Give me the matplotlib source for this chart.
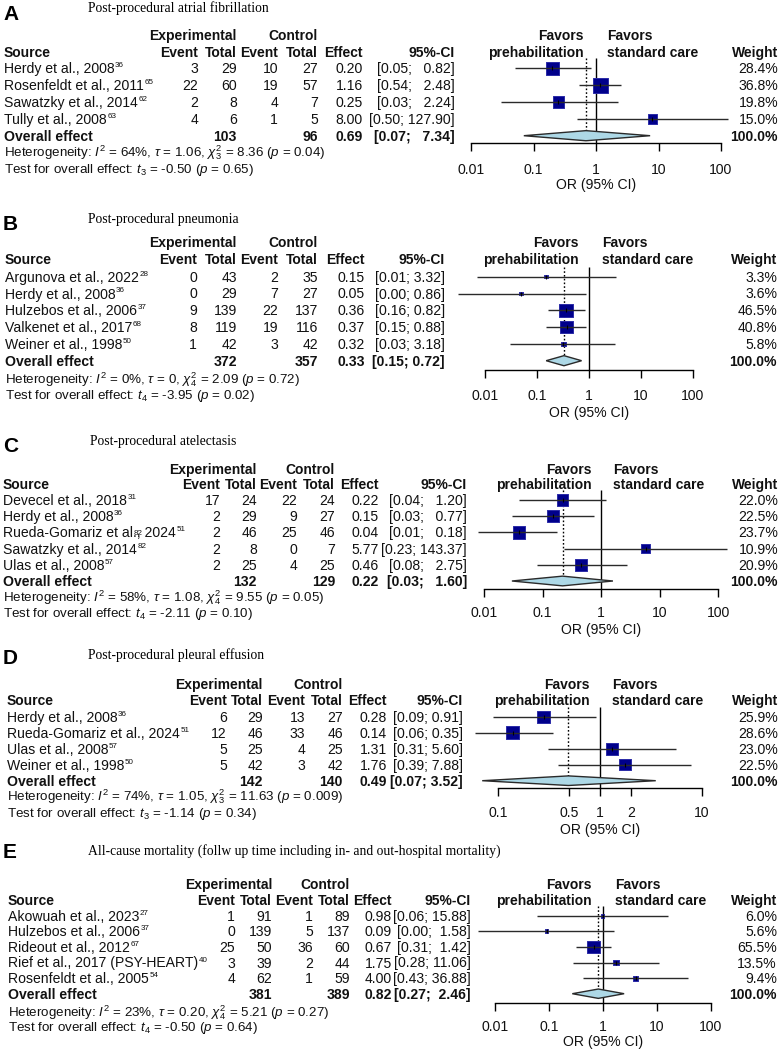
import numpy as np
import matplotlib
matplotlib.use("Agg")
import matplotlib.pyplot as plt
from matplotlib import transforms
from matplotlib.ticker import FixedLocator, FixedFormatter, NullLocator

plt.rcParams['font.family'] = ['Liberation Sans', 'DejaVu Sans']
plt.rcParams['mathtext.fontset'] = 'custom'
plt.rcParams['mathtext.rm'] = 'Liberation Sans'
plt.rcParams['mathtext.it'] = 'Liberation Sans:italic'
plt.rcParams['mathtext.bf'] = 'Liberation Sans:bold'
plt.rcParams['mathtext.sf'] = 'Liberation Sans'

# ---------------- DATA ----------------
# Panel A
A_title = "Post-procedural atrial fibrillation"
A_source = ["Herdy et al., 2008", "Rosenfeldt et al., 2011", "Sawatzky et al., 2014", "Tully et al., 2008"]
A_refs = ["36", "65", "62", "63"]
A_ev_e = [3, 22, 2, 4]
A_tot_e = [29, 60, 8, 6]
A_ev_c = [10, 19, 4, 1]
A_tot_c = [27, 57, 7, 5]
A_or = [0.20, 1.16, 0.25, 8.00]
A_lo = [0.05, 0.54, 0.03, 0.50]
A_hi = [0.82, 2.48, 2.24, 127.90]
A_w = [28.4, 36.8, 19.8, 15.0]
A_overall = [0.69, 0.07, 7.34]
A_het = r"Heterogeneity: $I^2$ = 64%, $\tau$ = 1.06, $\chi^2_3$ = 8.36 ($p$ = 0.04)"
A_test = r"Test for overall effect: $t_3$ = -0.50 ($p$ = 0.65)"
A_ticks = [0.01, 0.1, 1, 10, 100]
A_ticklabels = ["0.01", "0.1", "1", "10", "100"]

# Panel B
B_title = "Post-procedural pneumonia"
B_source = ["Argunova et al., 2022", "Herdy et al., 2008", "Hulzebos et al., 2006", "Valkenet et al., 2017", "Weiner et al., 1998"]
B_refs = ["28", "36", "37", "68", "50"]
B_ev_e = [0, 0, 9, 8, 1]
B_tot_e = [43, 29, 139, 119, 42]
B_ev_c = [2, 7, 22, 19, 3]
B_tot_c = [35, 27, 137, 116, 42]
B_or = [0.15, 0.05, 0.36, 0.37, 0.32]
B_lo = [0.007, 0.003, 0.16, 0.15, 0.03]
B_hi = [3.32, 0.86, 0.82, 0.88, 3.18]
B_w = [3.3, 3.6, 46.5, 40.8, 5.8]
B_overall = [0.33, 0.15, 0.72]
B_het = r"Heterogeneity: $I^2$ = 0%, $\tau$ = 0, $\chi^2_4$ = 2.09 ($p$ = 0.72)"
B_test = r"Test for overall effect: $t_4$ = -3.95 ($p$ = 0.02)"
B_ticks = [0.01, 0.1, 1, 10, 100]
B_ticklabels = ["0.01", "0.1", "1", "10", "100"]

# Panel C
C_title = "Post-procedural atelectasis"
C_source = ["Devecel et al., 2018", "Herdy et al., 2008", "Rueda-Gomariz et al., 2024", "Sawatzky et al., 2014", "Ulas et al., 2008"]
C_refs = ["31", "36", "51", "82", "57"]
C_inline_refs = {2: ("Rueda-Gomariz et al", "82")}
C_ev_e = [17, 2, 2, 2, 2]
C_tot_e = [24, 29, 46, 8, 25]
C_ev_c = [22, 9, 25, 0, 4]
C_tot_c = [24, 27, 46, 7, 25]
C_or = [0.22, 0.15, 0.04, 5.77, 0.46]
C_lo = [0.04, 0.03, 0.008, 0.23, 0.08]
C_hi = [1.20, 0.77, 0.18, 143.37, 2.75]
C_w = [22.0, 22.5, 23.7, 10.9, 20.9]
C_overall = [0.22, 0.03, 1.60]
C_het = r"Heterogeneity: $I^2$ = 58%, $\tau$ = 1.08, $\chi^2_4$ = 9.55 ($p$ = 0.05)"
C_test = r"Test for overall effect: $t_4$ = -2.11 ($p$ = 0.10)"
C_ticks = [0.01, 0.1, 1, 10, 100]
C_ticklabels = ["0.01", "0.1", "1", "10", "100"]

# Panel D
D_title = "Post-procedural pleural effusion"
D_source = ["Herdy et al., 2008", "Rueda-Gomariz et al., 2024", "Ulas et al., 2008", "Weiner et al., 1998"]
D_refs = ["36", "51", "57", "50"]
D_ev_e = [6, 12, 5, 5]
D_tot_e = [29, 46, 25, 42]
D_ev_c = [13, 33, 4, 3]
D_tot_c = [27, 46, 25, 42]
D_or = [0.28, 0.14, 1.31, 1.76]
D_lo = [0.09, 0.06, 0.31, 0.39]
D_hi = [0.91, 0.35, 5.60, 7.88]
D_w = [25.9, 28.6, 23.0, 22.5]
D_overall = [0.49, 0.07, 3.52]
D_het = r"Heterogeneity: $I^2$ = 74%, $\tau$ = 1.05, $\chi^2_3$ = 11.63 ($p$ = 0.009)"
D_test = r"Test for overall effect: $t_3$ = -1.14 ($p$ = 0.34)"
D_ticks = [0.1, 0.5, 1, 2, 10]
D_ticklabels = ["0.1", "0.5", "1", "2", "10"]

# Panel E
E_title = "All-cause mortality (follw up time including in- and out-hospital mortality)"
E_source = ["Akowuah et al., 2023", "Hulzebos et al., 2006", "Rideout et al., 2012", "Rief et al., 2017 (PSY-HEART)", "Rosenfeldt et al., 2005"]
E_refs = ["27", "37", "67", "40", "54"]
E_ev_e = [1, 0, 25, 3, 4]
E_tot_e = [91, 139, 50, 39, 62]
E_ev_c = [1, 5, 36, 2, 1]
E_tot_c = [89, 137, 60, 44, 59]
E_or = [0.98, 0.09, 0.67, 1.75, 4.00]
E_lo = [0.06, 0.0049, 0.31, 0.28, 0.43]
E_hi = [15.88, 1.58, 1.42, 11.06, 36.88]
E_w = [6.0, 5.6, 65.5, 13.5, 9.4]
E_overall = [0.82, 0.27, 2.46]
E_het = r"Heterogeneity: $I^2$ = 23%, $\tau$ = 0.20, $\chi^2_4$ = 5.21 ($p$ = 0.27)"
E_test = r"Test for overall effect: $t_4$ = -0.50 ($p$ = 0.64)"
E_ticks = [0.01, 0.1, 1, 10, 100]
E_ticklabels = ["0.01", "0.1", "1", "10", "100"]

panels = [
    dict(letter="A", title=A_title, source=A_source, refs=A_refs, ev_e=A_ev_e, tot_e=A_tot_e, ev_c=A_ev_c, tot_c=A_tot_c,
         eff=A_or, lo=A_lo, hi=A_hi, w=A_w, overall=A_overall, het=A_het, test=A_test, ticks=A_ticks, ticklabels=A_ticklabels),
    dict(letter="B", title=B_title, source=B_source, refs=B_refs, ev_e=B_ev_e, tot_e=B_tot_e, ev_c=B_ev_c, tot_c=B_tot_c,
         eff=B_or, lo=B_lo, hi=B_hi, w=B_w, overall=B_overall, het=B_het, test=B_test, ticks=B_ticks, ticklabels=B_ticklabels),
    dict(letter="C", title=C_title, source=C_source, refs=C_refs, ev_e=C_ev_e, tot_e=C_tot_e, ev_c=C_ev_c, tot_c=C_tot_c,
         eff=C_or, lo=C_lo, hi=C_hi, w=C_w, overall=C_overall, het=C_het, test=C_test, ticks=C_ticks, ticklabels=C_ticklabels,
         inline=C_inline_refs),
    dict(letter="D", title=D_title, source=D_source, refs=D_refs, ev_e=D_ev_e, tot_e=D_tot_e, ev_c=D_ev_c, tot_c=D_tot_c,
         eff=D_or, lo=D_lo, hi=D_hi, w=D_w, overall=D_overall, het=D_het, test=D_test, ticks=D_ticks, ticklabels=D_ticklabels),
    dict(letter="E", title=E_title, source=E_source, refs=E_refs, ev_e=E_ev_e, tot_e=E_tot_e, ev_c=E_ev_c, tot_c=E_tot_c,
         eff=E_or, lo=E_lo, hi=E_hi, w=E_w, overall=E_overall, het=E_het, test=E_test, ticks=E_ticks, ticklabels=E_ticklabels),
]

# ---------------- LAYOUT (pixels, top-left origin) ----------------
layouts = [
    dict(letter_y=14, title_y=8, title_x=88, h1=35, h2=52, y0=68.3, s=16.85, het=152, test=168,
         cols=(4, 198, 237, 278, 318, 363, 455, 778), px1=596, dec=62.5, axis_y=143, tick_y=170, xlab_y=185,
         fav=(584, 607), sq=15.0, src_x=4),
    dict(letter_y=224, title_y=220, title_x=88, h1=242, h2=259, y0=276.7, s=16.8, het=379, test=394,
         cols=(5, 197, 237, 278, 318, 365, 445, 777), px1=589, dec=52, axis_y=370, tick_y=396, xlab_y=413,
         fav=(579, 602), sq=13.3, src_x=5),
    dict(letter_y=446, title_y=442, title_x=90, h1=469, h2=484, y0=500, s=16.2, het=597, test=613,
         cols=(3, 220, 257, 297, 335, 379, 467, 778), px1=601, dec=58.5, axis_y=589, tick_y=613, xlab_y=630,
         fav=(592, 613), sq=12.3, src_x=3),
    dict(letter_y=659, title_y=655, title_x=88, h1=684, h2=700, y0=716.7, s=16.0, het=796, test=813,
         cols=(7, 227, 263, 305, 343, 387, 463, 778), px1=600, dec=102, axis_y=788, tick_y=813, xlab_y=830,
         fav=(590, 612), sq=13.0, src_x=7),
    dict(letter_y=853, title_y=851, title_x=88, h1=884, h2=900, y0=915.7, s=15.6, het=1012, test=1027,
         cols=(8, 235, 272, 313, 350, 392, 471, 777), px1=603, dec=54, axis_y=1003, tick_y=1027, xlab_y=1042,
         fav=(592, 615), sq=12.7, src_x=8),
]

W, H = 782, 1051
fig = plt.figure(figsize=(W / 100, H / 100), dpi=100)
fig.patch.set_facecolor("white")
pxT = transforms.Affine2D().scale(1 / W, -1 / H).translate(0, 1) + fig.transFigure
renderer = fig.canvas.get_renderer()

FS = 10.1
FS_B = 10
FS_HET = 9.6
FS_SUP = 5.8
TXT = "#111111"


def txt(x, y, s, **kw):
    kw.setdefault("color", TXT)
    return fig.text(x, y, s, transform=pxT, **kw)


def text_width(s, fontsize):
    t = txt(0, 0, s, fontsize=fontsize, ha="left", va="baseline")
    wdt = t.get_window_extent(renderer).width
    t.remove()
    return wdt


def fmt_ci(lo, hi):
    los = [f"{v:.2f}" for v in lo]
    his = [f"{v:.2f}" for v in hi]
    wl = max(len(v) for v in los)
    wh = max(len(v) for v in his)
    return [f"[{a.rjust(wl)}; {b.rjust(wh)}]" for a, b in zip(los, his)]


def draw_panel(P, L):
    n = len(P["source"])
    y0, s = L["y0"], L["s"]
    c = L["cols"]
    base = 5.0  # baseline offset from visual centre (px)

    txt(3, L["letter_y"], P["letter"], fontsize=15, fontweight="bold", va="center", ha="left", color="black")
    txt(L["title_x"], L["title_y"], P["title"], fontsize=9.8, family=["Liberation Serif"], va="center", ha="left",
        color="black")

    bold = dict(fontsize=FS_B, fontweight="bold", va="baseline")
    txt(c[2], L["h1"] + base, "Experimental", ha="right", **bold)
    txt(c[4], L["h1"] + base, "Control", ha="right", **bold)
    txt(c[0], L["h2"] + base, "Source", ha="left", **bold)
    for x, lab in [(c[1], "Event"), (c[2], "Total"), (c[3], "Event"), (c[4], "Total"), (c[5], "Effect"),
                   (c[6], "95%-CI"), (c[7], "Weight")]:
        txt(x, L["h2"] + base, lab, ha="right", **bold)
    txt(L["fav"][0], L["h1"] + base, "Favors", ha="right", **bold)
    txt(L["fav"][0], L["h2"] + base, "prehabilitation", ha="right", **bold)
    txt(L["fav"][1], L["h1"] + base, "Favors", ha="left", **bold)
    txt(L["fav"][1], L["h2"] + base, "standard care", ha="left", **bold)

    ci_strings = fmt_ci(P["lo"] + [P["overall"][1]], P["hi"] + [P["overall"][2]])
    reg = dict(fontsize=FS, va="baseline")
    inline = P.get("inline", {})
    for i in range(n):
        yc = y0 + i * s
        yy = yc + base
        src_w = text_width(P["source"][i], FS)
        txt(c[0], yy, P["source"][i], ha="left", **reg)
        txt(c[0] + src_w + 0.5, yc - 1.0, P["refs"][i], fontsize=FS_SUP, ha="left", va="baseline")
        if i in inline:
            prefix, mark = inline[i]
            pw = text_width(prefix, FS)
            txt(c[0] + pw + 0.5, yc + 2.5, mark, fontsize=FS_SUP, ha="left", va="baseline")
        txt(c[1], yy, str(P["ev_e"][i]), ha="right", **reg)
        txt(c[2], yy, str(P["tot_e"][i]), ha="right", **reg)
        txt(c[3], yy, str(P["ev_c"][i]), ha="right", **reg)
        txt(c[4], yy, str(P["tot_c"][i]), ha="right", **reg)
        txt(c[5], yy, f"{P['eff'][i]:.2f}", ha="right", **reg)
        txt(c[6], yy, ci_strings[i], ha="right", **reg)
        txt(c[7], yy, f"{P['w'][i]:.1f}%", ha="right", **reg)
    yy = y0 + n * s + base
    bold_row = dict(fontsize=FS, fontweight="bold", va="baseline")
    txt(c[0], yy, "Overall effect", ha="left", **bold_row)
    txt(c[2], yy, str(sum(P["tot_e"])), ha="right", **bold_row)
    txt(c[4], yy, str(sum(P["tot_c"])), ha="right", **bold_row)
    txt(c[5], yy, f"{P['overall'][0]:.2f}", ha="right", **bold_row)
    txt(c[6], yy, ci_strings[-1], ha="right", **bold_row)
    txt(c[7], yy, f"{sum(P['w']):.1f}%", ha="right", **bold_row)

    txt(L["src_x"], L["het"] + 4.5, P["het"], fontsize=FS_HET, va="baseline", ha="left")
    txt(L["src_x"], L["test"] + 4.5, P["test"], fontsize=FS_HET, va="baseline", ha="left")

    # forest axes
    Lpx, Rpx = 440, 750
    top_px = y0 - s
    ax = fig.add_axes([Lpx / W, 1 - L["axis_y"] / H, (Rpx - Lpx) / W, (L["axis_y"] - top_px) / H])
    ax.set_xscale("log")
    ax.set_xlim(10 ** ((Lpx - L["px1"]) / L["dec"]), 10 ** ((Rpx - L["px1"]) / L["dec"]))
    ybot = (L["axis_y"] - y0) / s
    ax.set_ylim(ybot, -1)
    ax.patch.set_visible(False)
    for sp in ["top", "left", "right"]:
        ax.spines[sp].set_visible(False)
    ax.spines["bottom"].set_bounds(P["ticks"][0], P["ticks"][-1])
    ax.spines["bottom"].set_linewidth(1.0)
    ax.xaxis.set_major_locator(FixedLocator(P["ticks"]))
    ax.xaxis.set_major_formatter(FixedFormatter(P["ticklabels"]))
    ax.xaxis.set_minor_locator(NullLocator())
    ax.set_yticks([])
    pad_px = L["tick_y"] - L["axis_y"] - 8 - 7
    ax.tick_params(axis="x", length=8 * 0.72, width=1.0, pad=pad_px * 0.72, labelsize=FS, labelcolor=TXT)

    rows = np.arange(n)
    eff = np.array(P["eff"])
    w = np.array(P["w"])
    side_pt = L["sq"] * np.sqrt(w / w.max()) * 0.72
    ax.vlines(1, -0.6, ybot, color="black", lw=1.0, zorder=1, clip_on=False)
    ax.vlines(P["overall"][0], -0.6, n - 0.3, color="black", lw=1.0, linestyles=(0, (1.2, 1.5)), zorder=1,
              clip_on=False)
    ax.scatter(eff, rows, s=side_pt ** 2, marker="s", facecolor="#00008B", edgecolor="#2b2ba8", linewidths=0.7,
               zorder=2, clip_on=False)
    ax.hlines(rows, P["lo"], P["hi"], color="#2a2a2a", lw=1.0, zorder=3, clip_on=False)
    ax.scatter(eff, rows, s=(4.5 * 0.72) ** 2, marker="|", color="black", linewidths=0.8, zorder=4, clip_on=False)

    ov, olo, ohi = P["overall"]
    h = 0.3
    ax.fill([olo, ov, ohi, ov], [n, n - h, n, n + h], facecolor="#ADD8E6", edgecolor="#2a2a2a", lw=1.0,
            zorder=3, clip_on=False)

    xT = transforms.blended_transform_factory(ax.transData, pxT)
    ax.text(1, L["xlab_y"], "OR (95% CI)", transform=xT, ha="center", va="center", fontsize=FS, color=TXT)


for P, L in zip(panels, layouts):
    draw_panel(P, L)

fig.savefig("out.png", dpi=100, facecolor="white")
